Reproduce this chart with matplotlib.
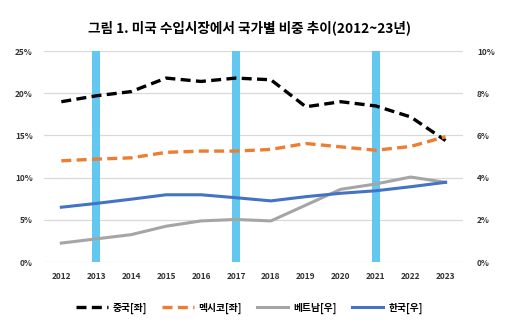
import matplotlib
matplotlib.use("Agg")
import matplotlib.pyplot as plt
from matplotlib.ticker import FuncFormatter

plt.rcParams['font.family'] = ['Noto Sans CJK KR', 'DejaVu Sans']

years = [2012, 2013, 2014, 2015, 2016, 2017, 2018, 2019, 2020, 2021, 2022, 2023]
highlight_years = [2013, 2017, 2021]

# left axis (%)
china = [19.0, 19.7, 20.2, 21.8, 21.4, 21.8, 21.6, 18.4, 19.0, 18.5, 17.2, 14.4]
mexico = [12.0, 12.2, 12.35, 13.0, 13.15, 13.15, 13.35, 14.05, 13.65, 13.25, 13.7, 14.85]
# right axis (%)
vietnam = [0.9, 1.1, 1.3, 1.7, 1.95, 2.02, 1.95, 2.7, 3.45, 3.7, 4.03, 3.78]
korea = [2.6, 2.78, 2.98, 3.19, 3.19, 3.05, 2.9, 3.1, 3.26, 3.38, 3.57, 3.78]

labels = ['중국[좌]', '멕시코[좌]', '베트남[우]', '한국[우]']

fig = plt.figure(figsize=(5.22, 3.36), dpi=100)
ax = fig.add_axes([0.084, 0.22, 0.803, 0.628])
ax2 = ax.twinx()

ax.set_xlim(2011.5, 2023.5)
ax.set_ylim(0, 25)
ax2.set_ylim(0, 10)
ax.set_yticks([0, 5, 10, 15, 20, 25])
ax2.set_yticks([0, 2, 4, 6, 8, 10])
ax.set_xticks(years)

pct = FuncFormatter(lambda v, p: f"{v:.0f}%")
ax.yaxis.set_major_formatter(pct)
ax2.yaxis.set_major_formatter(pct)

ax.grid(axis='y', color='#d9d9d9', linewidth=0.9)
ax.set_axisbelow(True)

# highlighted years
ax.bar(highlight_years, 25, width=0.22, color='#62c8f0', zorder=1)

l1, = ax.plot(years, china, color='black', linewidth=2.4, linestyle=(0, (3, 1.6)), zorder=3)
l2, = ax.plot(years, mexico, color='#ed7d31', linewidth=2.4, linestyle=(0, (3, 1.6)), zorder=3)
l3, = ax2.plot(years, vietnam, color='#a5a5a5', linewidth=2.2, zorder=3)
l4, = ax2.plot(years, korea, color='#4472c4', linewidth=2.2, zorder=3)

for a in (ax, ax2):
    for s in a.spines.values():
        s.set_visible(False)
    a.tick_params(length=0, labelsize=6, colors='#333333')
    for t in a.get_yticklabels() + a.get_xticklabels():
        t.set_fontweight('bold')
ax.tick_params(axis='y', pad=8)
ax2.tick_params(axis='y', pad=10)
ax.tick_params(axis='x', pad=7)

fig.text(0.478, 0.917, '그림 1. 미국 수입시장에서 국가별 비중 추이(2012~23년)',
         ha='center', va='center', fontsize=9.8, fontweight='bold')

fig.legend([l1, l2, l3, l4], labels, loc='center', bbox_to_anchor=(0.478, 0.083),
           ncol=4, frameon=False, handlelength=3.2, columnspacing=1.6,
           handletextpad=0.5, prop={'weight': 'bold', 'size': 7})

fig.savefig('out.png', dpi=100)
